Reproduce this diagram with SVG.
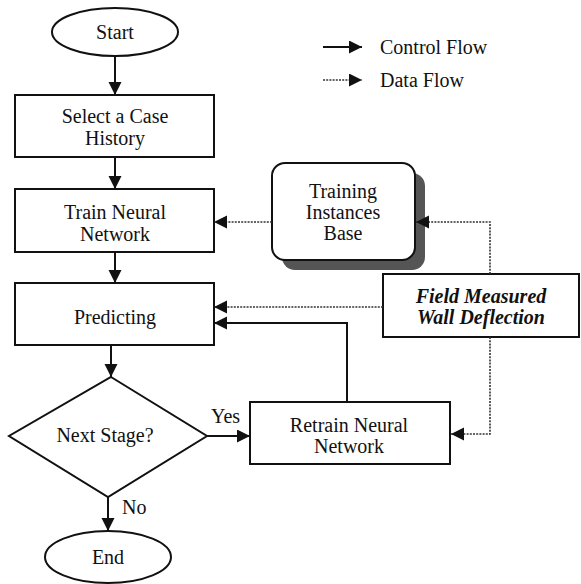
<svg xmlns="http://www.w3.org/2000/svg" width="581" height="584" viewBox="0 0 581 584" font-family="'Liberation Serif', 'Times New Roman', Times, 'DejaVu Serif', serif">
<defs>
<marker id="ah" markerUnits="userSpaceOnUse" markerWidth="14" markerHeight="14" refX="13" refY="6.5" orient="auto">
<path d="M0,0 L13,6.5 L0,13 z" fill="#111"/>
</marker>
<style>
.shape{fill:#fff;stroke:#111;stroke-width:2}
.t{font-family:'Liberation Serif','Times New Roman',Times,serif;font-size:20px;fill:#111;text-anchor:middle}
.tl{font-family:'Liberation Serif','Times New Roman',Times,serif;font-size:20px;fill:#111}
.bi{font-weight:bold;font-style:italic}
.ctl{fill:none;stroke:#111;stroke-width:2}
.data{fill:none;stroke:#333;stroke-width:1.6;stroke-dasharray:2 1.2}
</style>
</defs>
<rect width="581" height="584" fill="#fff"/>
<g id="legend">
<line class="ctl" x1="323" y1="47" x2="362" y2="47" marker-end="url(#ah)"/>
<text class="tl" x="380" y="54">Control Flow</text>
<line class="data" x1="323" y1="80" x2="362" y2="80" marker-end="url(#ah)"/>
<text class="tl" x="380" y="87">Data Flow</text>
</g>
<g id="start">
<ellipse class="shape" cx="115" cy="32" rx="63" ry="24"/>
<text class="t" x="115" y="39">Start</text>
</g>
<g id="select">
<rect class="shape" x="15" y="95" width="199" height="62"/>
<text class="t" x="115" y="123">Select a Case</text>
<text class="t" x="115" y="145">History</text>
</g>
<g id="train">
<rect class="shape" x="15" y="189" width="199" height="63"/>
<text class="t" x="115" y="219">Train Neural</text>
<text class="t" x="115" y="241">Network</text>
</g>
<g id="predicting">
<rect class="shape" x="15" y="283" width="199" height="62"/>
<text class="t" x="115" y="324">Predicting</text>
</g>
<g id="decision">
<polygon class="shape" points="111,377 207,436 108,497 9,436"/>
<text class="t" x="105" y="442">Next Stage?</text>
</g>
<g id="retrain">
<rect class="shape" x="250" y="402" width="200" height="62"/>
<text class="t" x="349" y="432">Retrain Neural</text>
<text class="t" x="349" y="453">Network</text>
</g>
<g id="end">
<ellipse class="shape" cx="108" cy="557" rx="63" ry="26"/>
<text class="t" x="108" y="564">End</text>
</g>
<g id="training-base">
<rect x="282" y="173" width="143" height="97" rx="13" fill="#555"/>
<rect class="shape" x="272" y="163" width="143" height="97" rx="13"/>
<text class="t" x="343" y="198">Training</text>
<text class="t" x="343" y="219">Instances</text>
<text class="t" x="343" y="240">Base</text>
</g>
<g id="field">
<rect class="shape" x="383" y="274" width="196" height="63" stroke-width="2.6"/>
<text class="t bi" x="481" y="303">Field Measured</text>
<text class="t bi" x="481" y="324">Wall Deflection</text>
</g>
<g id="connectors">
<line class="ctl" x1="115" y1="56" x2="115" y2="95" marker-end="url(#ah)"/>
<line class="ctl" x1="115" y1="157" x2="115" y2="189" marker-end="url(#ah)"/>
<line class="ctl" x1="115" y1="252" x2="115" y2="283" marker-end="url(#ah)"/>
<line class="ctl" x1="111" y1="345" x2="111" y2="377" marker-end="url(#ah)"/>
<line class="ctl" x1="207" y1="436" x2="250" y2="436" marker-end="url(#ah)"/>
<line class="ctl" x1="108" y1="497" x2="108" y2="531" marker-end="url(#ah)"/>
<polyline class="ctl" points="347,402 347,323 214,323" marker-end="url(#ah)"/>
<line class="data" x1="272" y1="222" x2="214" y2="222" marker-end="url(#ah)"/>
<line class="data" x1="383" y1="307" x2="214" y2="307" marker-end="url(#ah)"/>
<polyline class="data" points="490,274 490,222 416,222" marker-end="url(#ah)"/>
<polyline class="data" points="490,337 490,434 451,434" marker-end="url(#ah)"/>
<text class="tl" x="211" y="423">Yes</text>
<text class="tl" x="122" y="514">No</text>
</g>
</svg>
